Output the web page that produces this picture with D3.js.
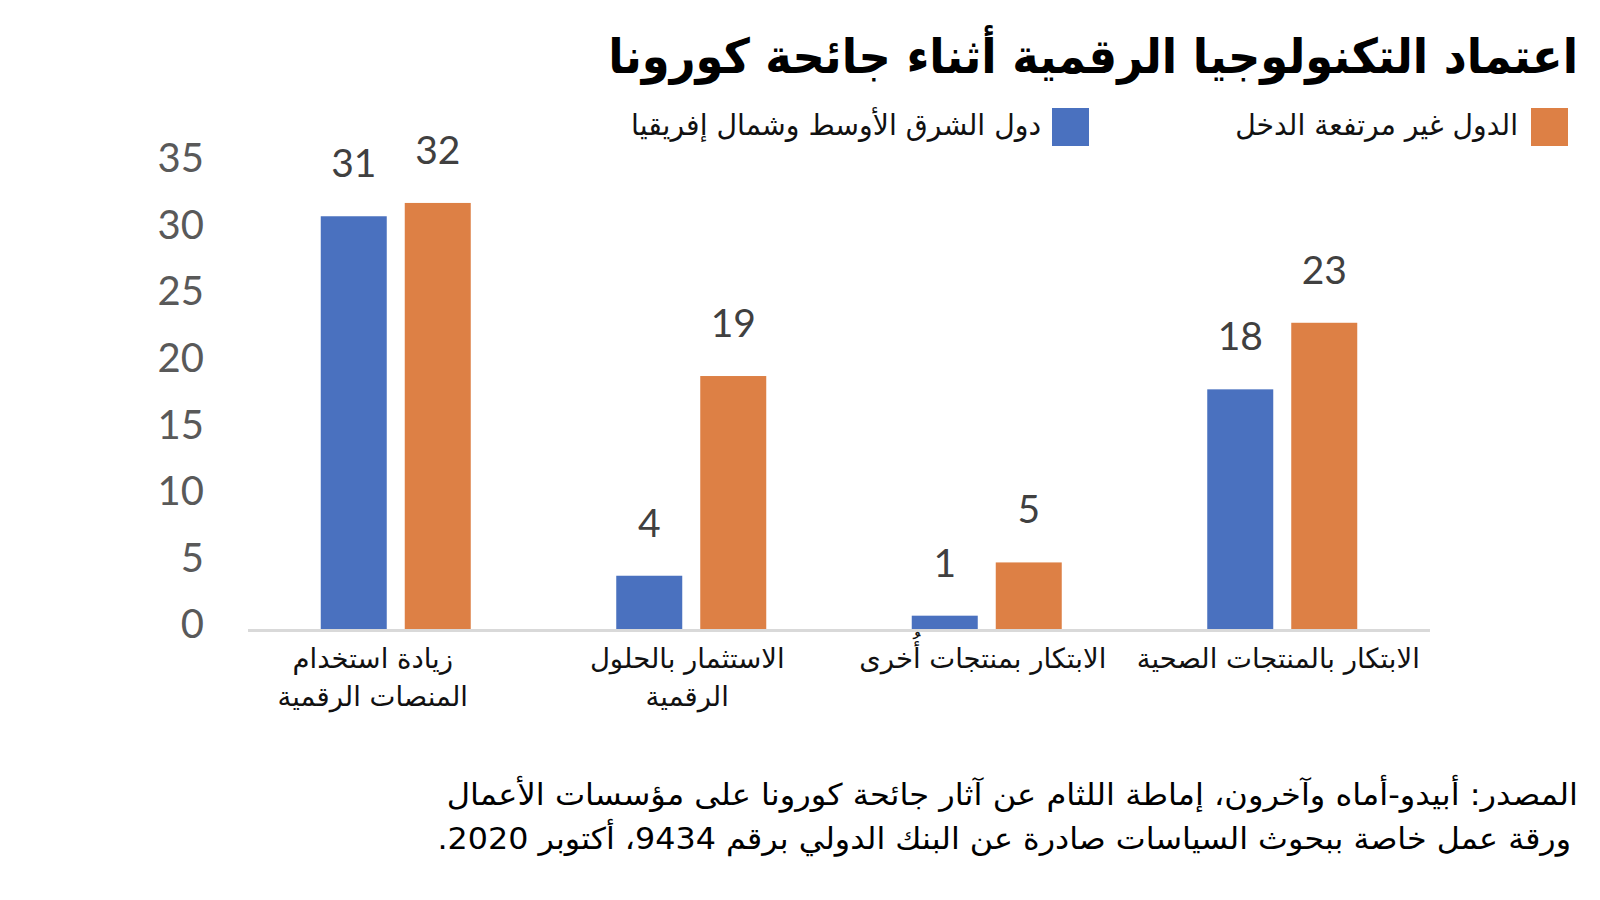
<!DOCTYPE html>
<html><head><meta charset="utf-8">
<script src="https://cdn.jsdelivr.net/npm/d3@7"></script>
<style>
html,body{margin:0;padding:0;background:#fff;}
svg{display:block;}
</style></head>
<body>
<svg id="chart" width="1600" height="900"></svg>
<script>
const title = "اعتماد التكنولوجيا الرقمية أثناء جائحة كورونا";
const categories = [
  ["زيادة استخدام", "المنصات الرقمية"],
  ["الاستثمار بالحلول", "الرقمية"],
  ["الابتكار بمنتجات أُخرى"],
  ["الابتكار بالمنتجات الصحية"]
];
const seriesNames = ["دول الشرق الأوسط وشمال إفريقيا", "الدول غير مرتفعة الدخل"];
const menaValues = [31, 4, 1, 18];
const nonHighIncomeValues = [32, 19, 5, 23];
const yTicks = [0, 5, 10, 15, 20, 25, 30, 35];
const sourceLines = [
  "المصدر: أبيدو-أماه وآخرون، إماطة اللثام عن آثار جائحة كورونا على مؤسسات الأعمال",
  "ورقة عمل خاصة ببحوث السياسات صادرة عن البنك الدولي برقم 9434، أكتوبر 2020."
];

const colors = ["#4a71bf", "#dd8045"];
const arFont = "'DejaVu Sans',sans-serif";
const numFont = "Lato, 'Open Sans', sans-serif";

const svg = d3.select("#chart");
const idx = d3.range(categories.length);

const x = d3.scaleBand().domain(idx).range([248, 1430]).paddingInner(0).paddingOuter(0);
const y = d3.scaleLinear().domain([0, 35]).range([629, 163]);
const barW = 66, gap = 18;

// right-aligned RTL text, horizontally scaled to a target width
function fitText(str, right, base, size, width, weight) {
  const g = svg.append("g");
  const t = g.append("text")
    .attr("x", 0).attr("y", 0)
    .attr("direction", "rtl").attr("text-anchor", "start")
    .attr("font-family", arFont).attr("font-size", size)
    .attr("font-weight", weight || "normal")
    .attr("fill", "#000")
    .text(str);
  const w = t.node().getComputedTextLength();
  g.attr("transform", `translate(${right},${base}) scale(${width / w},1)`);
  return t;
}

// Title
fitText(title, 1578, 73, 48, 970, "bold");

// Legend
const legend = [
  {name: seriesNames[1], color: colors[1], sq: 1531, tx: 1518, w: 283},
  {name: seriesNames[0], color: colors[0], sq: 1052, tx: 1041, w: 410}
];
legend.forEach(l => {
  svg.append("rect").attr("x", l.sq).attr("y", 108).attr("width", 37).attr("height", 38).attr("fill", l.color);
  fitText(l.name, l.tx, 135, 29, l.w).attr("fill", "#111");
});

// Y axis labels
const yAxis = d3.axisLeft(y).tickValues(yTicks).tickSize(0).tickPadding(0);
const gy = svg.append("g").attr("transform", "translate(204,-4)").call(yAxis);
gy.select(".domain").remove();
gy.selectAll("text").attr("font-family", numFont).attr("font-size", 40).attr("fill", "#595959");

// Bars
const series = [menaValues, nonHighIncomeValues];
const bx = (i, s) => x(i) + x.bandwidth() / 2 + (s === 0 ? -(barW + gap / 2) : gap / 2);
series.forEach((vals, s) => {
  svg.append("g").selectAll("rect").data(vals).join("rect")
    .attr("x", (d, i) => bx(i, s))
    .attr("y", d => y(d))
    .attr("width", barW)
    .attr("height", d => y(0) - y(d))
    .attr("fill", colors[s]);
  svg.append("g").selectAll("text").data(vals).join("text")
    .attr("x", (d, i) => bx(i, s) + barW / 2)
    .attr("y", d => y(d) - 39)
    .attr("text-anchor", "middle")
    .attr("font-family", numFont).attr("font-size", 39)
    .attr("fill", "#404040")
    .text(d => d);
});

// Baseline
svg.append("line").attr("x1", 248).attr("x2", 1430).attr("y1", y(0) + 1.5).attr("y2", y(0) + 1.5)
  .attr("stroke", "#d9d9d9").attr("stroke-width", 3);

// X labels
const gx = svg.append("g");
categories.forEach((lines, i) => {
  lines.forEach((ln, j) => {
    gx.append("text")
      .attr("x", x(i) + x.bandwidth() / 2 - (i === 0 ? 23 : 4))
      .attr("y", 668 + j * 38)
      .attr("direction", "rtl").attr("text-anchor", "middle")
      .attr("font-family", arFont).attr("font-size", 27.5).attr("fill", "#111")
      .text(ln);
  });
});

// Source
sourceLines.forEach((ln, j) => {
  fitText(ln, j === 0 ? 1578 : 1571, 805 + j * 44, 30, j === 0 ? 1132 : 1134);
});
</script>
</body></html>
